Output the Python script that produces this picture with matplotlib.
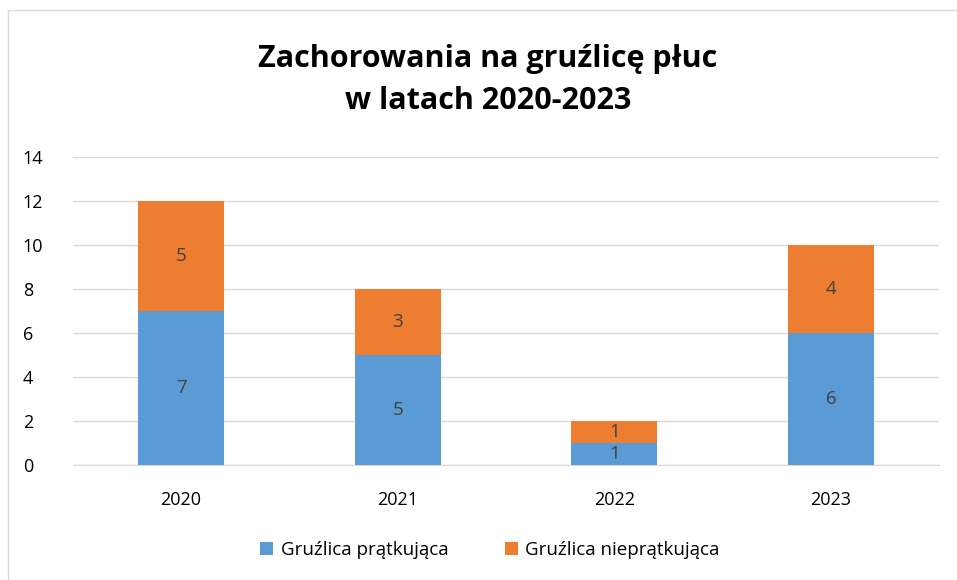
import matplotlib.pyplot as plt
from matplotlib.patches import Rectangle
import numpy as np

plt.rcParams['font.family'] = ['Open Sans', 'DejaVu Sans']

years = ["2020", "2021", "2022", "2023"]
pratkujaca = [7, 5, 1, 6]
niepratkujaca = [5, 3, 1, 4]
series_names = ["Gruźlica prątkująca", "Gruźlica nieprątkująca"]

BLUE = "#5B9BD5"
ORANGE = "#ED7D31"

fig = plt.figure(figsize=(9.57, 5.8), dpi=100)
ax = fig.add_axes([72.7 / 957, 1 - 465 / 580, 866.7 / 957, 308 / 580])

x = np.arange(len(years))
w = 0.397
b1 = ax.bar(x, pratkujaca, w, color=BLUE, label=series_names[0], zorder=3)
b2 = ax.bar(x, niepratkujaca, w, bottom=pratkujaca, color=ORANGE,
            label=series_names[1], zorder=3)
ax.bar_label(b1, label_type="center", fontsize=13.5, color="#404040")
ax.bar_label(b2, label_type="center", fontsize=13.5, color="#404040")

ax.set_xlim(-0.5, len(years) - 0.5)
ax.set_ylim(0, 14)
ax.set_yticks(range(0, 15, 2))
ax.set_xticks(x, years)
ax.grid(axis="y", color="#D9D9D9", linewidth=1, zorder=0)
for s in ["top", "right", "left"]:
    ax.spines[s].set_visible(False)
ax.spines["bottom"].set_color("#D9D9D9")
ax.tick_params(length=0, labelsize=13, colors="black")
ax.tick_params(axis="x", pad=19)
ax.tick_params(axis="y", pad=36)
for lbl in ax.get_yticklabels():
    lbl.set_ha("left")

fig.text(0.51, 1 - 80 / 580, "Zachorowania na gruźlicę płuc\nw latach 2020-2023",
         ha="center", va="center", fontsize=22, fontweight="bold",
         linespacing=1.5)

fig.legend(loc="center", bbox_to_anchor=(0.512, 1 - 550 / 580), ncol=2,
           frameon=False, fontsize=13.5, handlelength=0.7, handleheight=0.7,
           columnspacing=3.0, handletextpad=0.4)

fig.patches.append(Rectangle((0.008, -0.01), 1.0, 0.993, transform=fig.transFigure,
                             fill=False, edgecolor="#D9D9D9", linewidth=1))

fig.savefig("out.png", dpi=100)
